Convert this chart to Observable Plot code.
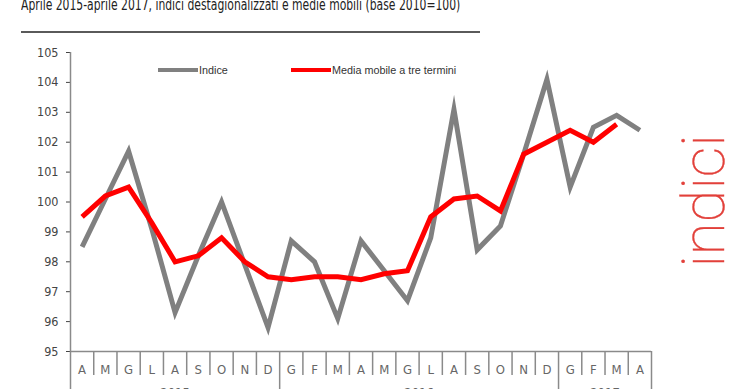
<!DOCTYPE html>
<html><head><meta charset="utf-8">
<script src="https://cdn.jsdelivr.net/npm/d3@7"></script>
<script src="https://cdn.jsdelivr.net/npm/@observablehq/plot@0.6"></script>
<style>
html,body{margin:0;padding:0;background:#fff}
body{width:740px;height:389px;overflow:hidden;position:relative;font-family:"Liberation Sans Narrow","DejaVu Sans Condensed","Liberation Sans",Arial,sans-serif}
#title{position:absolute;left:21px;top:-5px;font-size:16px;color:#222;white-space:nowrap;z-index:2;transform:scaleX(0.75);transform-origin:0 0}
#rule{position:absolute;left:21px;top:31px;width:459px;height:2px;background:#5a5a5a;z-index:2}
#chart{position:absolute;left:0;top:0}
.leg{position:absolute;top:64px;font-family:"Liberation Sans",Arial,sans-serif;font-size:10.8px;color:#333;display:flex;align-items:center;white-space:nowrap;z-index:2}
.leg span.sw{display:inline-block;width:40px;height:4px;margin-right:1px}
#indici{position:absolute;left:703px;top:201px;transform:translate(-50%,-50%) rotate(-90deg);font-family:Roboto,Lato,"Open Sans",sans-serif;font-weight:100;font-size:60px;color:#e2403a;white-space:nowrap;z-index:2;-webkit-text-stroke:0.4px #e2403a}
</style>
</head><body>
<div id="title">Aprile 2015-aprile 2017, indici destagionalizzati e medie mobili (base 2010=100)</div>
<div id="rule"></div>
<div class="leg" style="left:158px"><span class="sw" style="background:#808080"></span>Indice</div>
<div class="leg" style="left:291px"><span class="sw" style="background:#ff0000"></span>Media mobile a tre termini</div>
<div id="indici">indici</div>
<div id="chart"></div>
<script>
const months = ["A","M","G","L","A","S","O","N","D","G","F","M","A","M","G","L","A","S","O","N","D","G","F","M","A"];
const indice = [98.5,100.1,101.7,99.1,96.3,98.2,100.0,97.9,95.8,98.7,98.0,96.1,98.7,97.7,96.7,98.8,103.1,98.4,99.2,101.6,104.1,100.5,102.5,102.9,102.4];
const media = [99.5,100.2,100.5,99.3,98.0,98.2,98.8,98.0,97.5,97.4,97.5,97.5,97.4,97.6,97.7,99.5,100.1,100.2,99.7,101.6,102.0,102.4,102.0,102.6,null];
const years = ["2015","2016","2017"];
const yearStart = [0,9,21];
const yearEnd = [8,20,24];
const yTicks = [95,96,97,98,99,100,101,102,103,104,105];

const monthSeps = d3.range(months.length + 1).map(i => i - 0.5).filter(v => !yearStart.includes(v + 0.5) && v !== months.length - 0.5);
const yearSeps = yearStart.map(s => s - 0.5).concat([months.length - 0.5]);
const yearMid = years.map((y,i) => (yearStart[i] + yearEnd[i]) / 2);

const fontNarrow = `"Liberation Sans Narrow","DejaVu Sans Condensed","Liberation Sans",Arial,sans-serif`;

const chart = Plot.plot({
  width: 740,
  height: 389,
  marginTop: 52,
  marginBottom: 38,
  marginLeft: 70,
  marginRight: 89,
  style: {fontFamily: fontNarrow, fontSize: "12.5px", color: "#444", background: "transparent", overflow: "visible"},
  x: {domain: [-0.5, months.length - 0.5], axis: null},
  y: {domain: [95, 105], ticks: yTicks, tickSize: 4, tickPadding: 8, label: null, tickFormat: d => d},
  marks: [
    Plot.ruleX(monthSeps, {x: d => d, insetTop: 299, insetBottom: -24, stroke: "#8a8a8a", strokeWidth: 1.5}),
    Plot.ruleX(yearSeps.slice(1), {x: d => d, insetTop: 299, insetBottom: -40, stroke: "#8a8a8a", strokeWidth: 1.5}),
    Plot.ruleX([yearSeps[0]], {x: d => d, insetBottom: -40, stroke: "#8a8a8a", strokeWidth: 1.5}),
    Plot.ruleY([95], {stroke: "#8a8a8a", strokeWidth: 1.5}),
    Plot.text(months, {x: (d,i) => i, text: d => d, frameAnchor: "bottom", dy: 18, lineAnchor: "middle", fill: "#666", fontSize: 13}),
    Plot.text(years, {x: (d,i) => yearMid[i], text: d => d, frameAnchor: "bottom", dy: 41, lineAnchor: "middle", fill: "#666", fontSize: 13}),
    Plot.line(indice, {x: (d,i) => i, y: d => d, stroke: "#808080", strokeWidth: 5, strokeLinejoin: "miter", strokeMiterlimit: 10, strokeLinecap: "butt"}),
    Plot.line(media, {x: (d,i) => i, y: d => d, stroke: "#ff0000", strokeWidth: 5, strokeLinejoin: "miter", strokeMiterlimit: 10, strokeLinecap: "butt"})
  ]
});
document.getElementById("chart").appendChild(chart);
</script>
</body></html>
